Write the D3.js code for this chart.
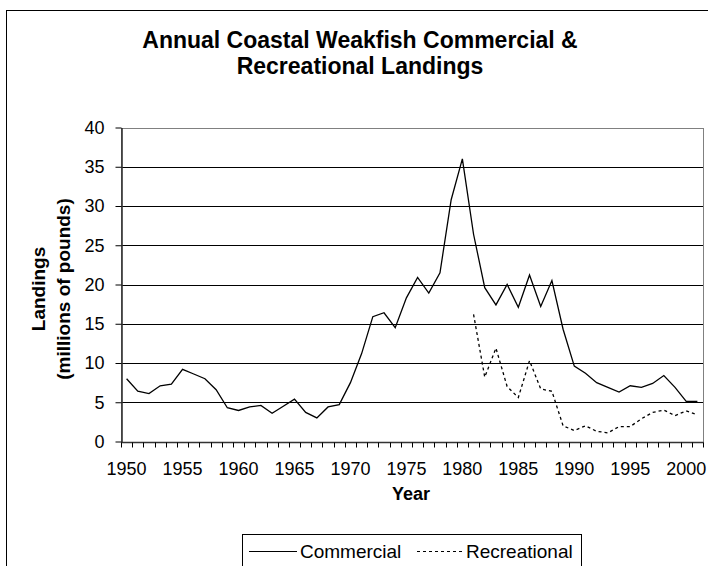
<!DOCTYPE html>
<html>
<head>
<meta charset="utf-8">
<script src="https://cdn.jsdelivr.net/npm/d3@7"></script>
<style>
  body { margin: 0; background: #fff; }
  svg { display: block; font-family: "Liberation Sans", Arial, sans-serif; }
</style>
</head>
<body>
<svg id="chart" width="708" height="566"></svg>
<script>
// Years shown on the category axis
const years = d3.range(1950, 2002);

// Commercial landings (millions of pounds), 1950-2001
const commercial = [8.0, 6.4, 6.1, 7.1, 7.3, 9.2, 8.6, 8.0, 6.6, 4.3,
  3.95, 4.4, 4.6, 3.6, 4.5, 5.4, 3.7, 3.0, 4.4, 4.7,
  7.5, 11.2, 15.9, 16.4, 14.5, 18.3, 20.9, 18.9, 21.5, 30.8,
  36.0, 26.4, 19.6, 17.4, 20.0, 17.1, 21.2, 17.2, 20.5, 14.3,
  9.6, 8.7, 7.5, 6.9, 6.3, 7.1, 6.9, 7.4, 8.4, 6.9,
  5.1, 5.1];

// Recreational landings start in 1981
const recYears = d3.range(1981, 2002);
const recreational = [16.2, 8.2, 11.9, 7.0, 5.6, 10.3, 6.7, 6.4, 2.0, 1.4,
  2.0, 1.3, 1.1, 1.9, 1.9, 2.9, 3.7, 4.0, 3.3, 3.9, 3.4];

const yTicks = d3.range(0, 41, 5);
const xLabels = d3.range(1950, 2001, 5);

const svg = d3.select('#chart');

// chart border (cut off at right/bottom like the original)
svg.append('rect')
  .attr('x', 6.5).attr('y', 10.5)
  .attr('width', 740).attr('height', 600)
  .attr('fill', '#fff')
  .attr('stroke', '#000');

const x = d3.scaleBand().domain(years).range([121, 703]).padding(0);
const y = d3.scaleLinear().domain([0, 40]).range([441.5, 127.5]);
const cx = yr => x(yr) + x.bandwidth() / 2;

// gridlines
svg.append('g')
  .selectAll('line')
  .data(yTicks.filter(d => d > 0 && d < 40))
  .join('line')
    .attr('x1', 121).attr('x2', 703)
    .attr('y1', d => Math.round(y(d)) + 0.5)
    .attr('y2', d => Math.round(y(d)) + 0.5)
    .attr('stroke', '#000');

// plot area border
svg.append('rect')
  .attr('x', 121.5).attr('y', Math.round(y(40)) + 0.5)
  .attr('width', 582).attr('height', Math.round(y(0)) - Math.round(y(40)))
  .attr('fill', 'none')
  .attr('stroke', '#808080');

// y axis
const yAxis = svg.append('g')
  .attr('transform', 'translate(121.5,0)')
  .call(d3.axisLeft(y).tickValues(yTicks).tickSize(6).tickPadding(11).tickSizeOuter(0));
yAxis.selectAll('text').style('font-size', '18px').attr('fill', '#000');
yAxis.selectAll('line').attr('stroke', '#000');
yAxis.select('.domain').attr('stroke', '#333').attr('stroke-width', 1.6);

// x axis: labels every 5 years, ticks at category boundaries
const x0 = Math.round(y(0)) + 0.5;
svg.append('line')
  .attr('x1', 121).attr('x2', 703.5)
  .attr('y1', x0).attr('y2', x0)
  .attr('stroke', '#333')
  .attr('stroke-width', 1.6);

svg.append('g')
  .selectAll('line')
  .data(years.concat([2002]))
  .join('line')
    .attr('x1', d => Math.round(d === 2002 ? x.range()[1] : x(d)) + 0.5)
    .attr('x2', d => Math.round(d === 2002 ? x.range()[1] : x(d)) + 0.5)
    .attr('y1', x0).attr('y2', x0 + 5)
    .attr('stroke', '#000');

svg.append('g')
  .selectAll('text')
  .data(xLabels)
  .join('text')
    .attr('x', d => cx(d))
    .attr('y', 475)
    .attr('text-anchor', 'middle')
    .style('font-size', '18px')
    .text(d => d);

// series lines
const commLine = d3.line()
  .x((d, i) => cx(years[i]))
  .y(d => y(d));
svg.append('path')
  .attr('d', commLine(commercial))
  .attr('fill', 'none')
  .attr('stroke', '#000')
  .attr('stroke-width', 1.3);

const recLine = d3.line()
  .x((d, i) => cx(recYears[i]))
  .y(d => y(d));
svg.append('path')
  .attr('d', recLine(recreational))
  .attr('fill', 'none')
  .attr('stroke', '#000')
  .attr('stroke-width', 1.3)
  .attr('stroke-dasharray', '3,3');

// title
const title = svg.append('text')
  .attr('text-anchor', 'middle')
  .style('font-size', '23px')
  .style('font-weight', 'bold');
title.append('tspan').attr('x', 360).attr('y', 48).text('Annual Coastal Weakfish Commercial &');
title.append('tspan').attr('x', 360).attr('y', 74).text('Recreational Landings');

// axis titles
const yTitle = svg.append('text')
  .attr('transform', 'translate(0,289) rotate(-90)')
  .attr('text-anchor', 'middle')
  .style('font-size', '19px')
  .style('font-weight', 'bold');
yTitle.append('tspan').attr('x', 0).attr('y', 38).attr('dy', '0.35em').text('Landings');
yTitle.append('tspan').attr('x', 0).attr('y', 63.5).attr('dy', '0.35em').text('(millions of pounds)');

svg.append('text')
  .attr('x', 411).attr('y', 500)
  .attr('text-anchor', 'middle')
  .style('font-size', '18px')
  .style('font-weight', 'bold')
  .text('Year');

// legend
const legend = svg.append('g');
legend.append('rect')
  .attr('x', 242.5).attr('y', 534.5)
  .attr('width', 339).attr('height', 60)
  .attr('fill', '#fff')
  .attr('stroke', '#000');
legend.append('line')
  .attr('x1', 249).attr('x2', 297).attr('y1', 551.5).attr('y2', 551.5)
  .attr('stroke', '#000');
legend.append('text')
  .attr('x', 300).attr('y', 558)
  .style('font-size', '19px')
  .text('Commercial');
legend.append('line')
  .attr('x1', 417).attr('x2', 463).attr('y1', 551.5).attr('y2', 551.5)
  .attr('stroke', '#000')
  .attr('stroke-dasharray', '3,3');
legend.append('text')
  .attr('x', 466).attr('y', 558)
  .style('font-size', '19px')
  .text('Recreational');
</script>
</body>
</html>
